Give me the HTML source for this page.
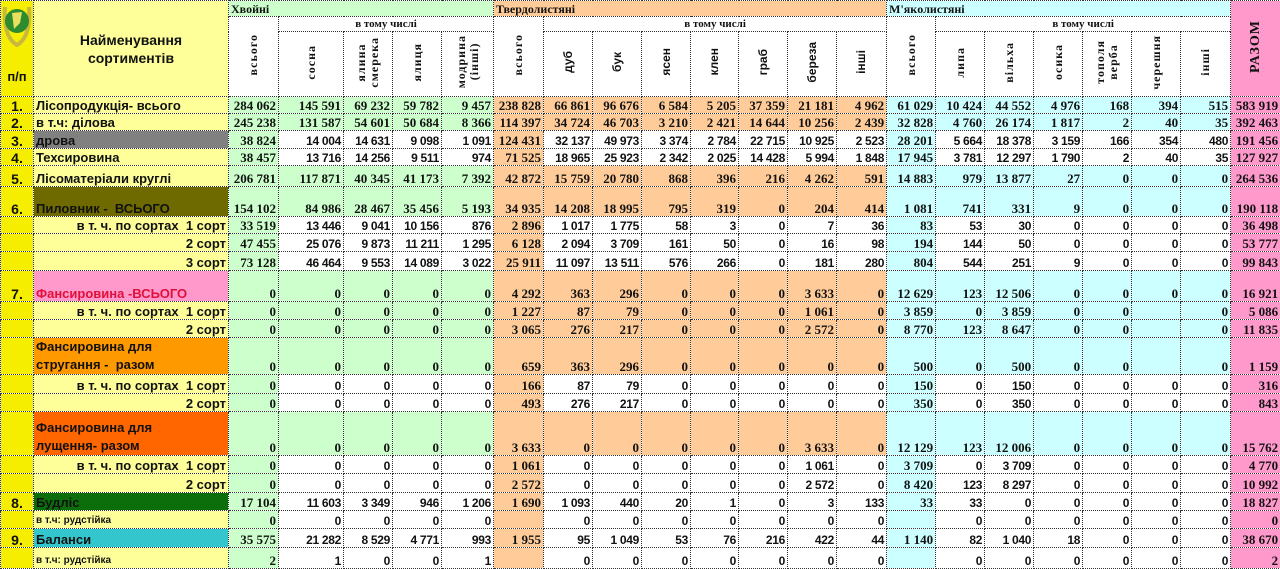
<!DOCTYPE html>
<html><head><meta charset="utf-8">
<style>
html,body{margin:0;padding:0;background:#fff;}
body{width:1280px;height:567px;overflow:hidden;}
table{border-collapse:collapse;table-layout:fixed;width:1280px;}
td{border:1px dotted #333;padding:0 2px;overflow:hidden;white-space:nowrap;font-weight:bold;font-family:"Liberation Serif",serif;font-size:13px;text-align:right;vertical-align:bottom;line-height:14px;color:#111;}
col.pp{background:#f6ee00;} col.nm{background:#ffff99;}
col.g{background:#ccffcc;} col.o{background:#ffcc99;} col.c{background:#ccffff;} col.p{background:#ff99cc;}
td.pp{text-align:center;font-family:"Liberation Sans",sans-serif;font-size:14px;background:#f6ee00;}
td.nm{text-align:left;font-family:"Liberation Sans",sans-serif;font-size:13px;background:#ffff99;}
td.nr{text-align:right;font-family:"Liberation Sans",sans-serif;font-size:13px;background:#ffff99;}
td.sm{font-size:10px;}
tr.wh td:nth-child(n+4):nth-child(-n+7),
tr.wh td:nth-child(n+9):nth-child(-n+15),
tr.wh td:nth-child(n+17):nth-child(-n+22){background:#fff;font-family:"Liberation Sans",sans-serif;font-size:12px;letter-spacing:-0.3px;}
.hd td{background:#fff;text-align:center;vertical-align:middle;font-size:11px;}
.hd td.grp{text-align:left;font-size:12px;}
.v{writing-mode:vertical-rl;transform:rotate(180deg);display:inline-block;line-height:13px;font-size:12px;letter-spacing:1px;}
.vs{font-family:"Liberation Sans",sans-serif;letter-spacing:0;}
</style></head><body>
<table>
<colgroup>
<col class="pp" style="width:33px"><col class="nm" style="width:195px">
<col class="g" style="width:50px"><col class="g" style="width:65px"><col class="g" style="width:49px"><col class="g" style="width:49px"><col class="g" style="width:52px">
<col class="o" style="width:50px"><col class="o" style="width:49px"><col class="o" style="width:49px"><col class="o" style="width:49px"><col class="o" style="width:48px"><col class="o" style="width:49px"><col class="o" style="width:49px"><col class="o" style="width:50px">
<col class="c" style="width:49px"><col class="c" style="width:49px"><col class="c" style="width:49px"><col class="c" style="width:49px"><col class="c" style="width:49px"><col class="c" style="width:49px"><col class="c" style="width:50px">
<col class="p" style="width:50px">
</colgroup>
<tr class="hd" style="height:16px">
<td rowspan="3" style="background:#f6ee00;vertical-align:bottom;padding:0;position:relative">
<svg width="32" height="48" style="position:absolute;top:0;left:0"><path d="M4 6 Q2 36 16 44 Q30 36 28 6" stroke="#c8b840" stroke-width="4" fill="none"/><circle cx="16" cy="20" r="12" fill="#2e8b2e"/><path d="M11 12 L21 11 L19 22 L13 28 Z" fill="#e8e060"/></svg>
<span style="font-family:'Liberation Sans',sans-serif;font-size:13px;display:block;padding-bottom:12px">п/п</span></td>
<td rowspan="3" style="background:#ffff99;font-family:'Liberation Sans',sans-serif;font-size:14px;line-height:18px">Найменування<br>сортиментів</td>
<td colspan="5" class="grp" style="background:#ccffcc">Хвойні</td>
<td colspan="8" class="grp" style="background:#ffcc99">Твердолистяні</td>
<td colspan="7" class="grp" style="background:#ccffff">М'якoлистяні</td>
<td rowspan="3" style="background:#ff99cc"><span class="v" style="font-size:14px">РАЗОМ</span></td>
</tr>
<tr class="hd" style="height:15px">
<td rowspan="2"><span class="v">всього</span></td><td colspan="4">в тому числі</td>
<td rowspan="2"><span class="v">всього</span></td><td colspan="7">в тому числі</td>
<td rowspan="2"><span class="v">всього</span></td><td colspan="6">в тому числі</td>
</tr>
<tr class="hd" style="height:65px">
<td><span class="v">сосна</span></td><td><span class="v">ялина<br>смерека</span></td><td><span class="v">ялиця</span></td><td><span class="v">модрина<br>(інші)</span></td>
<td><span class="v vs">дуб</span></td><td><span class="v vs">бук</span></td><td><span class="v vs">ясен</span></td><td><span class="v vs">клен</span></td><td><span class="v vs">граб</span></td><td><span class="v vs">береза</span></td><td><span class="v vs">інші</span></td>
<td><span class="v">липа</span></td><td><span class="v">вільха</span></td><td><span class="v">осика</span></td><td><span class="v">тополя<br>верба</span></td><td><span class="v">черешня</span></td><td><span class="v">інші</span></td>
</tr>
<tr style="height:17px"><td class="pp">1.</td><td class="nm">Лісопродукція- всього</td><td>284 062</td><td>145 591</td><td>69 232</td><td>59 782</td><td>9 457</td><td>238 828</td><td>66 861</td><td>96 676</td><td>6 584</td><td>5 205</td><td>37 359</td><td>21 181</td><td>4 962</td><td>61 029</td><td>10 424</td><td>44 552</td><td>4 976</td><td>168</td><td>394</td><td>515</td><td>583 919</td></tr>
<tr style="height:17px"><td class="pp">2.</td><td class="nm">в т.ч: ділова</td><td>245 238</td><td>131 587</td><td>54 601</td><td>50 684</td><td>8 366</td><td>114 397</td><td>34 724</td><td>46 703</td><td>3 210</td><td>2 421</td><td>14 644</td><td>10 256</td><td>2 439</td><td>32 828</td><td>4 760</td><td>26 174</td><td>1 817</td><td>2</td><td>40</td><td>35</td><td>392 463</td></tr>
<tr class="wh" style="height:18px"><td class="pp">3.</td><td class="nm" style="background:#808080">дрова</td><td>38 824</td><td>14 004</td><td>14 631</td><td>9 098</td><td>1 091</td><td>124 431</td><td>32 137</td><td>49 973</td><td>3 374</td><td>2 784</td><td>22 715</td><td>10 925</td><td>2 523</td><td>28 201</td><td>5 664</td><td>18 378</td><td>3 159</td><td>166</td><td>354</td><td>480</td><td>191 456</td></tr>
<tr class="wh" style="height:17px"><td class="pp">4.</td><td class="nm">Техсировина</td><td>38 457</td><td>13 716</td><td>14 256</td><td>9 511</td><td>974</td><td>71 525</td><td>18 965</td><td>25 923</td><td>2 342</td><td>2 025</td><td>14 428</td><td>5 994</td><td>1 848</td><td>17 945</td><td>3 781</td><td>12 297</td><td>1 790</td><td>2</td><td>40</td><td>35</td><td>127 927</td></tr>
<tr style="height:21px"><td class="pp">5.</td><td class="nm">Лісоматеріали круглі</td><td>206 781</td><td>117 871</td><td>40 345</td><td>41 173</td><td>7 392</td><td>42 872</td><td>15 759</td><td>20 780</td><td>868</td><td>396</td><td>216</td><td>4 262</td><td>591</td><td>14 883</td><td>979</td><td>13 877</td><td>27</td><td>0</td><td>0</td><td>0</td><td>264 536</td></tr>
<tr style="height:30px"><td class="pp">6.</td><td class="nm" style="background:#6f6a00">Пиловник -&nbsp; ВСЬОГО</td><td>154 102</td><td>84 986</td><td>28 467</td><td>35 456</td><td>5 193</td><td>34 935</td><td>14 208</td><td>18 995</td><td>795</td><td>319</td><td>0</td><td>204</td><td>414</td><td>1 081</td><td>741</td><td>331</td><td>9</td><td>0</td><td>0</td><td>0</td><td>190 118</td></tr>
<tr class="wh" style="height:17px"><td class="pp"></td><td class="nr">в т. ч. по сортах&nbsp; 1 сорт</td><td>33 519</td><td>13 446</td><td>9 041</td><td>10 156</td><td>876</td><td>2 896</td><td>1 017</td><td>1 775</td><td>58</td><td>3</td><td>0</td><td>7</td><td>36</td><td>83</td><td>53</td><td>30</td><td>0</td><td>0</td><td>0</td><td>0</td><td>36 498</td></tr>
<tr class="wh" style="height:18px"><td class="pp"></td><td class="nr">2 сорт</td><td>47 455</td><td>25 076</td><td>9 873</td><td>11 211</td><td>1 295</td><td>6 128</td><td>2 094</td><td>3 709</td><td>161</td><td>50</td><td>0</td><td>16</td><td>98</td><td>194</td><td>144</td><td>50</td><td>0</td><td>0</td><td>0</td><td>0</td><td>53 777</td></tr>
<tr class="wh" style="height:19px"><td class="pp"></td><td class="nr">3 сорт</td><td>73 128</td><td>46 464</td><td>9 553</td><td>14 089</td><td>3 022</td><td>25 911</td><td>11 097</td><td>13 511</td><td>576</td><td>266</td><td>0</td><td>181</td><td>280</td><td>804</td><td>544</td><td>251</td><td>9</td><td>0</td><td>0</td><td>0</td><td>99 843</td></tr>
<tr style="height:31px"><td class="pp">7.</td><td class="nm" style="background:#ff99cc;color:#e0103a">Фансировина -ВСЬОГО</td><td>0</td><td>0</td><td>0</td><td>0</td><td>0</td><td>4 292</td><td>363</td><td>296</td><td>0</td><td>0</td><td>0</td><td>3 633</td><td>0</td><td>12 629</td><td>123</td><td>12 506</td><td>0</td><td>0</td><td>0</td><td>0</td><td>16 921</td></tr>
<tr style="height:18px"><td class="pp"></td><td class="nr">в т. ч. по сортах&nbsp; 1 сорт</td><td>0</td><td>0</td><td>0</td><td>0</td><td>0</td><td>1 227</td><td>87</td><td>79</td><td>0</td><td>0</td><td>0</td><td>1 061</td><td>0</td><td>3 859</td><td>0</td><td>3 859</td><td>0</td><td>0</td><td></td><td>0</td><td>5 086</td></tr>
<tr style="height:18px"><td class="pp"></td><td class="nr">2 сорт</td><td>0</td><td>0</td><td>0</td><td>0</td><td>0</td><td>3 065</td><td>276</td><td>217</td><td>0</td><td>0</td><td>0</td><td>2 572</td><td>0</td><td>8 770</td><td>123</td><td>8 647</td><td>0</td><td>0</td><td></td><td>0</td><td>11 835</td></tr>
<tr style="height:36px"><td class="pp"></td><td class="nm" style="background:#ff9900;line-height:18px">Фансировина для<br>стругання -&nbsp; разом</td><td>0</td><td>0</td><td>0</td><td>0</td><td>0</td><td>659</td><td>363</td><td>296</td><td>0</td><td>0</td><td>0</td><td>0</td><td>0</td><td>500</td><td>0</td><td>500</td><td>0</td><td>0</td><td></td><td>0</td><td>1 159</td></tr>
<tr class="wh" style="height:19px"><td class="pp"></td><td class="nr">в т. ч. по сортах&nbsp; 1 сорт</td><td>0</td><td>0</td><td>0</td><td>0</td><td>0</td><td>166</td><td>87</td><td>79</td><td>0</td><td>0</td><td>0</td><td>0</td><td>0</td><td>150</td><td>0</td><td>150</td><td>0</td><td>0</td><td>0</td><td>0</td><td>316</td></tr>
<tr class="wh" style="height:18px"><td class="pp"></td><td class="nr">2 сорт</td><td>0</td><td>0</td><td>0</td><td>0</td><td>0</td><td>493</td><td>276</td><td>217</td><td>0</td><td>0</td><td>0</td><td>0</td><td>0</td><td>350</td><td>0</td><td>350</td><td>0</td><td>0</td><td>0</td><td>0</td><td>843</td></tr>
<tr style="height:44px"><td class="pp"></td><td class="nm" style="background:#ff6600;line-height:18px">Фансировина для<br>лущення- разом</td><td>0</td><td>0</td><td>0</td><td>0</td><td>0</td><td>3 633</td><td>0</td><td>0</td><td>0</td><td>0</td><td>0</td><td>3 633</td><td>0</td><td>12 129</td><td>123</td><td>12 006</td><td>0</td><td>0</td><td>0</td><td>0</td><td>15 762</td></tr>
<tr class="wh" style="height:18px"><td class="pp"></td><td class="nr">в т. ч. по сортах&nbsp; 1 сорт</td><td>0</td><td>0</td><td>0</td><td>0</td><td>0</td><td>1 061</td><td>0</td><td>0</td><td>0</td><td>0</td><td>0</td><td>1 061</td><td>0</td><td>3 709</td><td>0</td><td>3 709</td><td>0</td><td>0</td><td>0</td><td>0</td><td>4 770</td></tr>
<tr class="wh" style="height:19px"><td class="pp"></td><td class="nr">2 сорт</td><td>0</td><td>0</td><td>0</td><td>0</td><td>0</td><td>2 572</td><td>0</td><td>0</td><td>0</td><td>0</td><td>0</td><td>2 572</td><td>0</td><td>8 420</td><td>123</td><td>8 297</td><td>0</td><td>0</td><td>0</td><td>0</td><td>10 992</td></tr>
<tr class="wh" style="height:18px"><td class="pp">8.</td><td class="nm" style="background:#0b6e0b">Будліс</td><td>17 104</td><td>11 603</td><td>3 349</td><td>946</td><td>1 206</td><td>1 690</td><td>1 093</td><td>440</td><td>20</td><td>1</td><td>0</td><td>3</td><td>133</td><td>33</td><td>33</td><td>0</td><td>0</td><td>0</td><td>0</td><td>0</td><td>18 827</td></tr>
<tr class="wh" style="height:18px"><td class="pp"></td><td class="nm sm">в т.ч: рудстійка</td><td>0</td><td>0</td><td>0</td><td>0</td><td>0</td><td></td><td>0</td><td>0</td><td>0</td><td>0</td><td>0</td><td>0</td><td>0</td><td></td><td>0</td><td>0</td><td>0</td><td>0</td><td>0</td><td>0</td><td>0</td></tr>
<tr class="wh" style="height:19px"><td class="pp">9.</td><td class="nm" style="background:#33c6cc">Баланси</td><td>35 575</td><td>21 282</td><td>8 529</td><td>4 771</td><td>993</td><td>1 955</td><td>95</td><td>1 049</td><td>53</td><td>76</td><td>216</td><td>422</td><td>44</td><td>1 140</td><td>82</td><td>1 040</td><td>18</td><td>0</td><td>0</td><td>0</td><td>38 670</td></tr>
<tr class="wh" style="height:21px"><td class="pp"></td><td class="nm sm">в т.ч: рудстійка</td><td>2</td><td>1</td><td>0</td><td>0</td><td>1</td><td></td><td>0</td><td>0</td><td>0</td><td>0</td><td>0</td><td>0</td><td>0</td><td></td><td>0</td><td>0</td><td>0</td><td>0</td><td>0</td><td>0</td><td>2</td></tr>
</table>
</body></html>
